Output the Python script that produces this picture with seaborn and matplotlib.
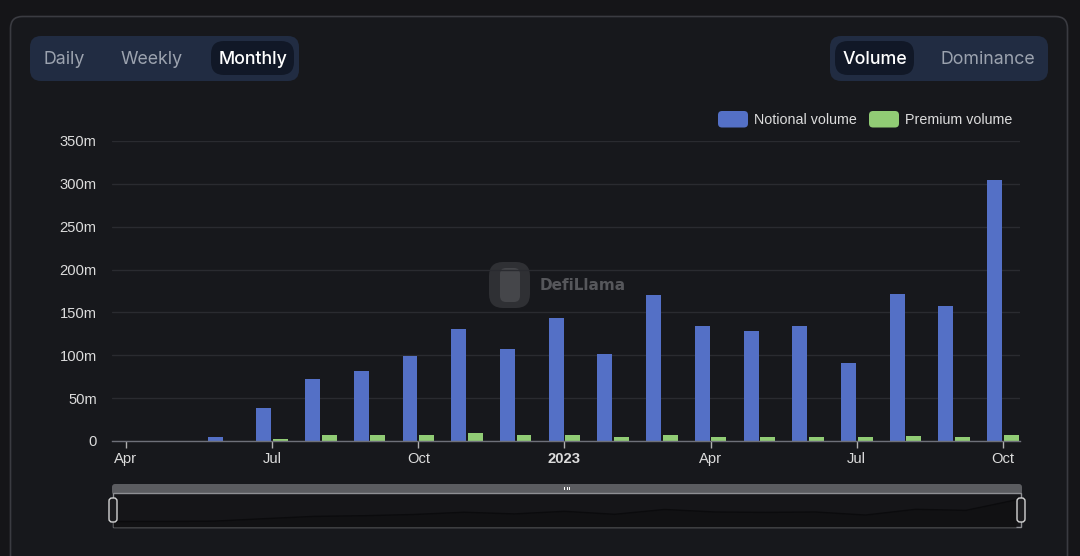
import pandas as pd
import matplotlib.pyplot as plt
import seaborn as sns
from matplotlib.patches import FancyBboxPatch, Rectangle
from matplotlib.transforms import IdentityTransform
from matplotlib.ticker import FuncFormatter

# monthly data, Apr 2022 -> Oct 2023 (values in millions)
months = ["2022-04", "2022-05", "2022-06", "2022-07", "2022-08", "2022-09",
          "2022-10", "2022-11", "2022-12", "2023-01", "2023-02", "2023-03",
          "2023-04", "2023-05", "2023-06", "2023-07", "2023-08", "2023-09",
          "2023-10"]
notional = [0, 0.5, 4.5, 39, 72, 81.5, 99, 130.5, 107, 143.5, 101.5, 170,
            134, 128.5, 134, 91, 172, 157, 305]
premium = [0, 0.2, 0.4, 2.3, 6.6, 7, 7, 8.9, 6.5, 7, 4.7, 7,
           5, 5, 5, 4.3, 5.8, 5, 6.6]
series_names = ["Notional volume", "Premium volume"]
tick_idx = [0, 3, 6, 9, 12, 15, 18]
tick_labels = ["Apr", "Jul", "Oct", "2023", "Apr", "Jul", "Oct"]
y_ticks = [0, 50, 100, 150, 200, 250, 300, 350]

BLUE = "#5470c6"
GREEN = "#91cc75"
W, H = 1080, 556

sns.set_theme(style="dark")
plt.rcParams["font.family"] = ["Liberation Sans", "DejaVu Sans"]

df = pd.DataFrame({
    "month": months * 2,
    "value": notional + premium,
    "series": [series_names[0]] * len(months) + [series_names[1]] * len(months),
})

fig = plt.figure(figsize=(W / 100, H / 100), dpi=100)
fig.patch.set_facecolor("#151518")

px = IdentityTransform()


def rbox(x0, y0, x1, y1, r, fc, ec="none", lw=0, z=-5):
    p = FancyBboxPatch((x0, H - y1), x1 - x0, y1 - y0,
                       boxstyle=f"round,pad=0,rounding_size={r}",
                       transform=px, fc=fc, ec=ec, lw=lw, zorder=z)
    fig.add_artist(p)
    return p


def ptext(x, y, s, **kw):
    fig.text(x, H - y, s, transform=px, **kw)


# card
rbox(10.5, 16.5, 1067.5, 640, 12, "#17181c", ec="#3a3b41", lw=1.2, z=-10)

# toggle buttons
rbox(30, 36, 299, 81, 11, "#212c42")
rbox(211, 41, 294, 75, 13, "#111827", z=-4)
ptext(64, 59, "Daily", ha="center", va="center", family="Inter", fontsize=12.8, color="#9ca3af")
ptext(152, 59, "Weekly", ha="center", va="center", family="Inter", fontsize=12.8, color="#9ca3af")
ptext(253, 59, "Monthly", ha="center", va="center", family="Inter", fontsize=12.8,
      fontweight="medium", color="#ffffff")

rbox(830, 36, 1048, 81, 11, "#212c42")
rbox(835, 41, 914, 75, 13, "#111827", z=-4)
ptext(874.5, 59, "Volume", ha="center", va="center", family="Inter", fontsize=12.8,
      fontweight="medium", color="#ffffff")
ptext(988, 59, "Dominance", ha="center", va="center", family="Inter", fontsize=12.8, color="#9ca3af")

# legend
rbox(718, 111, 748, 127.5, 4, BLUE, z=2)
ptext(754, 119.5, series_names[0], va="center", fontsize=10.3, color="#dcdcdc")
rbox(869, 111, 899, 127.5, 4, GREEN, z=2)
ptext(905, 119.5, series_names[1], va="center", fontsize=10.3, color="#dcdcdc")

# watermark
rbox(489, 262, 530, 308, 14, "#2f3034", z=-3)
rbox(500, 268, 520, 302, 6, "#45464a", z=-3)
ptext(540, 286, "DefiLlama", va="center", family="DejaVu Sans", fontweight="bold",
      fontsize=11, color="#56575b", zorder=-3)

# main chart
ax = fig.add_axes([112 / W, 1 - 441 / H, (1020 - 112) / W, 300 / H])
ax.set_facecolor("none")
sns.barplot(data=df, x="month", y="value", hue="series", order=months,
            hue_order=series_names, palette=[BLUE, GREEN], saturation=1,
            width=0.68, gap=0.1, legend=False, ax=ax, linewidth=0)

ax.set_xlim(-0.287, 18.35)
ax.set_ylim(0, 350)
ax.set_yticks(y_ticks)
ax.yaxis.set_major_formatter(FuncFormatter(lambda v, p: "0" if v == 0 else f"{int(v)}m"))
ax.set_xticks(tick_idx)
ax.set_xticklabels(tick_labels)
for lab in ax.get_xticklabels():
    if lab.get_text() == "2023":
        lab.set_fontweight("bold")
ax.set_xlabel("")
ax.set_ylabel("")
ax.grid(axis="y", color="#2a2b30", lw=1)
ax.grid(axis="x", visible=False)
ax.set_axisbelow(True)
for s in ["top", "right", "left"]:
    ax.spines[s].set_visible(False)
ax.spines["bottom"].set_color("#6e7079")
ax.spines["bottom"].set_linewidth(1)
ax.tick_params(axis="y", length=0, pad=11, labelsize=10.6, labelcolor="#dcdcdc")
ax.tick_params(axis="x", bottom=True, length=5, width=1, color="#b0b0b0", direction="out",
               pad=3, labelsize=10.6, labelcolor="#dcdcdc")

# data zoom slider
rbox(112, 484, 1022, 495, 3, "#5b5c60", z=-2)
for gx in (564.5, 567, 569.5):
    fig.add_artist(Rectangle((gx - 0.5, H - 490), 1, 3, transform=px, fc="#ffffff",
                             lw=0, zorder=3))
fig.add_artist(Rectangle((113, H - 527), 908, 34, transform=px, fc="#151518",
                         ec="#8e8f93", lw=1, zorder=-1))

ax2 = fig.add_axes([113 / W, 1 - 527 / H, 908 / W, 34 / H])
ax2.set_facecolor("none")
sns.lineplot(x=list(range(len(notional))), y=notional, ax=ax2, color="#0b0b0d", lw=1)
ax2.fill_between(range(len(notional)), notional, -80, color="#111113", lw=0)
ax2.set_xlim(0, 18.1)
ax2.set_ylim(-78, 403)
ax2.axis("off")

rbox(109, 498, 117, 522, 3, "#1c1c1f", ec="#d4d4d4", lw=1, z=5)
rbox(1017, 498, 1025, 522, 3, "#1c1c1f", ec="#d4d4d4", lw=1, z=5)

fig.savefig("out.png", dpi=100, facecolor=fig.get_facecolor())
